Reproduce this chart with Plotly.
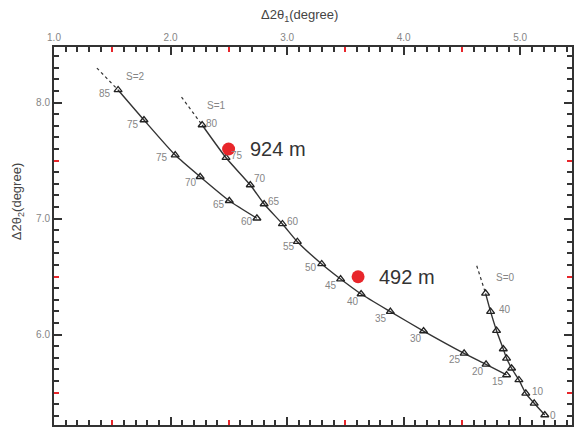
import plotly.graph_objects as go

# ---- data ----
s2_x = [1.550, 1.772, 2.040, 2.254, 2.504, 2.741]
s2_y = [8.108, 7.849, 7.547, 7.360, 7.153, 7.002]
s2_labels = ["85", "75", "75", "70", "65", "60"]
s2_tail_x = [1.368, 1.550]
s2_tail_y = [8.297, 8.108]

s1_x = [2.271, 2.476, 2.684, 2.803, 2.960, 3.088, 3.297, 3.459, 3.635, 3.886, 4.171, 4.519, 4.707, 4.883]
s1_y = [7.806, 7.524, 7.289, 7.125, 6.953, 6.800, 6.608, 6.478, 6.349, 6.197, 6.030, 5.838, 5.743, 5.651]
s1_labels = ["80", "75", "70", "65", "60", "55", "50", "45", "40", "35", "30", "25", "20", "15"]
s1_tail_x = [2.094, 2.271]
s1_tail_y = [8.047, 7.806]

s0_x = [4.703, 4.746, 4.797, 4.855, 4.883, 4.926, 4.989, 5.048, 5.120, 5.211]
s0_y = [6.355, 6.197, 6.033, 5.875, 5.795, 5.709, 5.608, 5.493, 5.407, 5.306]
s0_labels = ["", "40", "", "", "", "", "", "10", "", "0"]
s0_tail_x = [4.627, 4.703]
s0_tail_y = [6.593, 6.355]

series_names = ["S=2", "S=1", "S=0"]
series_name_pos_x = [1.70, 2.39, 4.87]
series_name_pos_y = [8.222, 7.978, 6.493]

sample_x = [2.498, 3.609]
sample_y = [7.599, 6.498]
sample_labels = ["924 m", "492 m"]

x_ticks = [1.0, 2.0, 3.0, 4.0, 5.0]
y_ticks = [6.0, 7.0, 8.0]
x_red_ticks = [1.5, 2.5, 3.5, 4.5]
y_red_ticks = [5.5, 6.5, 7.5]

# ---- label offsets (pixels, style only) ----
s2_off = [(-13, 4), (-11, 4), (-13, 2), (-9, 6), (-10, 4), (-10, 3)]
s1_off = [(10, -2), (11, -2), (10, -6), (10, -3), (11, -2), (-8, 5), (-11, 4),
          (-10, 6), (-8, 7), (-9, 7), (-8, 7), (-9, 6), (-8, 7), (-9, 7)]
s0_off = [(0, 0), (14, -2), (0, 0), (0, 0), (0, 0), (0, 0), (0, 0), (12, -2), (0, 0), (8, 0)]

LINE = "#333333"
GRAY = "#858585"
RED = "#e8262b"
FONT = "Liberation Sans, Arial, sans-serif"

fig = go.Figure()

for tx, ty in [(s2_tail_x, s2_tail_y), (s1_tail_x, s1_tail_y), (s0_tail_x, s0_tail_y)]:
    fig.add_trace(go.Scatter(x=tx, y=ty, mode="lines",
                             line=dict(color=LINE, width=1.2, dash="dot"),
                             hoverinfo="skip", showlegend=False))

for xs, ys in [(s2_x, s2_y), (s1_x, s1_y), (s0_x, s0_y)]:
    fig.add_trace(go.Scatter(x=xs, y=ys, mode="lines+markers",
                             line=dict(color=LINE, width=1.4, shape="spline", smoothing=0.6),
                             marker=dict(symbol="triangle-up-open", size=7,
                                         color="#222222", line=dict(width=1.3)),
                             showlegend=False))

fig.add_trace(go.Scatter(x=sample_x, y=sample_y, mode="markers",
                         marker=dict(color=RED, size=13), showlegend=False))

annotations = []
for xs, ys, labs, offs in [(s2_x, s2_y, s2_labels, s2_off),
                           (s1_x, s1_y, s1_labels, s1_off),
                           (s0_x, s0_y, s0_labels, s0_off)]:
    for x, y, lab, (dx, dy) in zip(xs, ys, labs, offs):
        if not lab:
            continue
        annotations.append(dict(x=x, y=y, text=lab, showarrow=False,
                                xshift=dx, yshift=-dy,
                                font=dict(size=10, color=GRAY, family=FONT)))

for name, x, y in zip(series_names, series_name_pos_x, series_name_pos_y):
    annotations.append(dict(x=x, y=y, text=name, showarrow=False,
                            font=dict(size=10, color=GRAY, family=FONT)))

for x, y, lab in zip(sample_x, sample_y, sample_labels):
    annotations.append(dict(x=x, y=y, text=lab, showarrow=False, xanchor="left",
                            xshift=19, yshift=0,
                            font=dict(size=20, color="#333333", family=FONT)))

annotations.append(dict(xref="paper", yref="paper", x=(300 - 54) / 520,
                        y=1 + (47 - 16) / 378,
                        text="Δ2θ<sub>1</sub>(degree)", showarrow=False,
                        xanchor="center", yanchor="middle",
                        font=dict(size=13, color="#444444", family=FONT)))
annotations.append(dict(xref="paper", yref="paper", x=(18 - 54) / 520,
                        y=(425 - 202) / 378, text="Δ2θ<sub>2</sub>(degree)",
                        showarrow=False, textangle=-90,
                        xanchor="center", yanchor="middle",
                        font=dict(size=13, color="#444444", family=FONT)))

# dummy trace for overlay axes (red ticks)
fig.add_trace(go.Scatter(x=[None], y=[None], xaxis="x2", yaxis="y2",
                         showlegend=False, hoverinfo="skip"))

x_range = [1.0, 1.0 + 520 / 117]
y_range = [8.0 - (425 - 102.5) / 116, 8.0 + (102.5 - 47) / 116]

common = dict(showgrid=False, zeroline=False, showline=True, linecolor=LINE,
              linewidth=2, mirror="allticks", ticks="inside", ticklen=8,
              tickwidth=2, tickcolor=LINE, tickformat=".1f",
              tickfont=dict(size=10, color=GRAY, family=FONT),
              minor=dict(dtick=0.1, ticks="inside", ticklen=5, tickwidth=1.6,
                         tickcolor=LINE))

fig.update_layout(
    width=574, height=428,
    margin=dict(l=54, r=0, t=47, b=3),
    paper_bgcolor="white", plot_bgcolor="white",
    xaxis=dict(range=x_range, side="top", tickvals=x_ticks, **common),
    yaxis=dict(range=y_range, side="left", tickvals=y_ticks, **common),
    xaxis2=dict(range=x_range, overlaying="x", side="top", showgrid=False,
                zeroline=False, showline=False, mirror="allticks", ticks="inside",
                tickvals=x_red_ticks, ticklen=5, tickwidth=2, tickcolor=RED,
                showticklabels=False),
    yaxis2=dict(range=y_range, overlaying="y", side="left", showgrid=False,
                zeroline=False, showline=False, mirror="allticks", ticks="inside",
                tickvals=y_red_ticks, ticklen=5, tickwidth=2, tickcolor=RED,
                showticklabels=False),
    annotations=annotations,
    showlegend=False,
)

fig.write_html("out.html", config={"displayModeBar": False},
               post_script="document.body.style.margin='0px';document.body.style.overflow='hidden';")
